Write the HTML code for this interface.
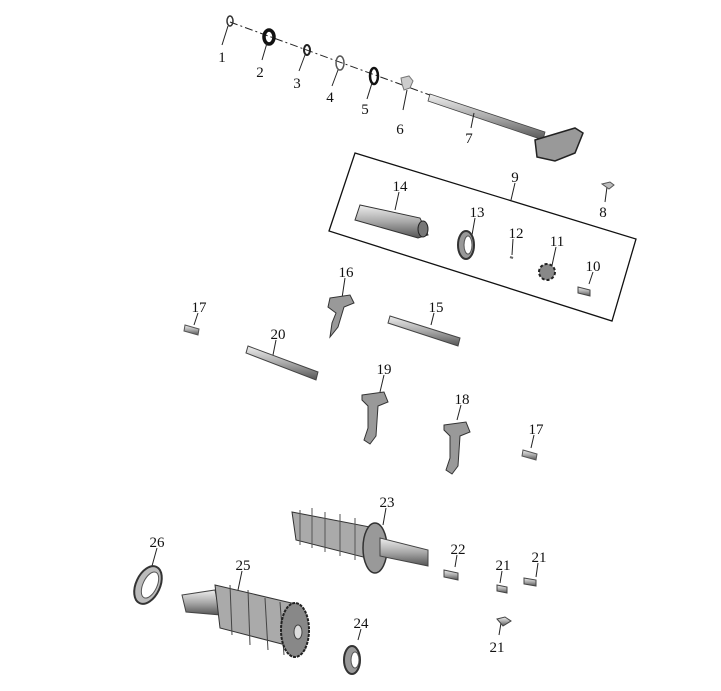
<!DOCTYPE html>
<html><head><style>
html,body{margin:0;padding:0;background:#fff;}
svg{display:block}
text{font-family:"Liberation Serif",serif;font-size:15px;fill:#111;text-anchor:middle}
</style></head><body>
<svg width="721" height="691" viewBox="0 0 721 691" xmlns="http://www.w3.org/2000/svg">
<defs>
<linearGradient id="m" x1="0" y1="0" x2="0" y2="1"><stop offset="0" stop-color="#eee"/><stop offset=".5" stop-color="#aaa"/><stop offset="1" stop-color="#555"/></linearGradient>
</defs>
<!-- axis dash-dot -->
<line x1="230" y1="22" x2="438" y2="98" stroke="#222" stroke-width="1" stroke-dasharray="8,3,2,3"/>
<!-- small rings -->
<ellipse cx="230" cy="21" rx="3" ry="5" fill="none" stroke="#333" stroke-width="1.5"/>
<ellipse cx="269" cy="37" rx="5" ry="7" fill="none" stroke="#111" stroke-width="3.5"/>
<ellipse cx="307" cy="50" rx="3" ry="5" fill="none" stroke="#222" stroke-width="2"/>
<ellipse cx="340" cy="63" rx="4" ry="7" fill="none" stroke="#555" stroke-width="1.5"/>
<ellipse cx="374" cy="76" rx="4" ry="8" fill="none" stroke="#111" stroke-width="2.5"/>
<path d="M401 78 l8 -2 l4 5 l-3 7 l-6 2 l-2 -6z" fill="#ccc" stroke="#777"/>
<!-- shaft 7 -->
<path d="M430 94 L545 132 L543 140 L428 101z" fill="url(#m)" stroke="#444" stroke-width=".8"/>
<path d="M535 140 l40 -12 l8 5 l-8 20 l-20 8 l-18 -4z" fill="#999" stroke="#222" stroke-width="1.5"/>
<!-- leaders -->
<g stroke="#222" stroke-width="1">
<line x1="228" y1="26" x2="222" y2="45"/><line x1="267" y1="43" x2="262" y2="60"/>
<line x1="305" y1="55" x2="299" y2="71"/><line x1="338" y1="70" x2="332" y2="86"/>
<line x1="372" y1="83" x2="367" y2="99"/><line x1="407" y1="90" x2="403" y2="110"/>
<line x1="474" y1="113" x2="471" y2="128"/><line x1="607" y1="187" x2="605" y2="202"/>
<line x1="515" y1="183" x2="511" y2="200"/><line x1="593" y1="272" x2="589" y2="284"/>
<line x1="556" y1="247" x2="551" y2="270"/><line x1="513" y1="239" x2="512" y2="255"/>
<line x1="475" y1="218" x2="472" y2="235"/><line x1="399" y1="192" x2="395" y2="210"/>
<line x1="434" y1="313" x2="431" y2="325"/><line x1="345" y1="278" x2="342" y2="298"/>
<line x1="198" y1="313" x2="194" y2="325"/><line x1="534" y1="435" x2="531" y2="448"/>
<line x1="461" y1="405" x2="457" y2="420"/><line x1="384" y1="375" x2="380" y2="392"/>
<line x1="276" y1="340" x2="273" y2="355"/><line x1="386" y1="508" x2="383" y2="525"/>
<line x1="457" y1="555" x2="455" y2="567"/><line x1="502" y1="571" x2="500" y2="583"/>
<line x1="538" y1="563" x2="536" y2="577"/><line x1="501" y1="623" x2="499" y2="635"/>
<line x1="361" y1="629" x2="358" y2="640"/><line x1="242" y1="571" x2="238" y2="590"/>
<line x1="157" y1="548" x2="152" y2="566"/>
</g>
<!-- box 9 -->
<polygon points="355,153 636,239 612,321 329,231" fill="none" stroke="#111" stroke-width="1.3"/>
<!-- 8 -->
<path d="M602 184 l8 -2 l4 3 l-5 4z" fill="#bbb" stroke="#555"/>
<!-- 14 drum -->
<path d="M360 205 L420 218 L428 235 L418 238 L355 220z" fill="url(#m)" stroke="#333"/>
<ellipse cx="423" cy="229" rx="5" ry="8" fill="#777" stroke="#222"/>
<!-- 13 bearing -->
<ellipse cx="466" cy="245" rx="8" ry="14" fill="#999" stroke="#333" stroke-width="2"/>
<ellipse cx="468" cy="245" rx="4" ry="9" fill="#fff" stroke="#555"/>
<line x1="510" y1="257" x2="513" y2="258" stroke="#666" stroke-width="2"/>
<!-- 11 -->
<circle cx="547" cy="272" r="8" fill="#888" stroke="#222" stroke-width="2" stroke-dasharray="3,2"/>
<!-- 10 -->
<path d="M578 287 l12 3 l0 6 l-12 -3z" fill="url(#m)" stroke="#444"/>
<!-- 16 fork -->
<path d="M330 298 l20 -3 l4 8 l-10 4 l-6 20 l-8 10 l2 -14 l4 -10 l-8 -6z" fill="#999" stroke="#333"/>
<!-- 15 rod -->
<path d="M390 316 L460 338 L458 346 L388 323z" fill="url(#m)" stroke="#444"/>
<!-- 17 pins -->
<path d="M185 325 l14 4 l-1 6 l-14 -4z" fill="url(#m)" stroke="#555"/>
<path d="M523 450 l14 4 l-1 6 l-14 -4z" fill="url(#m)" stroke="#555"/>
<!-- 20 rod -->
<path d="M248 346 L318 372 L316 380 L246 353z" fill="url(#m)" stroke="#444"/>
<!-- 19 fork -->
<path d="M362 395 l22 -3 l4 10 l-10 4 l-2 30 l-6 8 l-6 -4 l4 -12 l0 -22 l-6 -6z" fill="#999" stroke="#333"/>
<!-- 18 fork -->
<path d="M444 425 l22 -3 l4 10 l-10 4 l-2 30 l-6 8 l-6 -4 l4 -12 l0 -22 l-6 -6z" fill="#999" stroke="#333"/>
<!-- 23 shaft -->
<path d="M292 512 L370 527 L375 560 L296 540z" fill="#aaa" stroke="#333"/>
<g stroke="#555" stroke-width="1">
<line x1="300" y1="510" x2="300" y2="545"/><line x1="312" y1="508" x2="312" y2="548"/><line x1="325" y1="512" x2="325" y2="552"/><line x1="340" y1="514" x2="340" y2="556"/><line x1="355" y1="518" x2="355" y2="560"/></g>
<ellipse cx="375" cy="548" rx="12" ry="25" fill="#999" stroke="#333" stroke-width="1.5"/>
<path d="M380 538 L428 550 L428 566 L380 556z" fill="url(#m)" stroke="#444"/>
<!-- 22 -->
<path d="M444 570 l14 3 l0 7 l-14 -3z" fill="url(#m)" stroke="#444"/>
<!-- 21s -->
<path d="M497 585 l10 2 l0 6 l-10 -2z" fill="url(#m)" stroke="#444"/>
<path d="M524 578 l12 2 l0 6 l-12 -2z" fill="url(#m)" stroke="#444"/>
<path d="M497 619 l8 -2 l6 4 l-8 5z" fill="url(#m)" stroke="#444"/>
<!-- 26 washer -->
<ellipse cx="148" cy="585" rx="12" ry="20" transform="rotate(25 148 585)" fill="#bbb" stroke="#333" stroke-width="2"/>
<ellipse cx="150" cy="585" rx="7" ry="14" transform="rotate(25 150 585)" fill="#fff" stroke="#555"/>
<!-- 25 shaft -->
<path d="M182 595 L215 590 L220 615 L186 612z" fill="url(#m)" stroke="#444"/>
<path d="M215 585 L300 605 L305 650 L220 628z" fill="#aaa" stroke="#333"/>
<g stroke="#444"><line x1="230" y1="585" x2="232" y2="635"/><line x1="248" y1="590" x2="250" y2="645"/><line x1="265" y1="598" x2="268" y2="650"/><line x1="280" y1="602" x2="284" y2="655"/></g>
<ellipse cx="295" cy="630" rx="14" ry="27" fill="#888" stroke="#222" stroke-width="2" stroke-dasharray="3,1"/>
<ellipse cx="298" cy="632" rx="4" ry="7" fill="#ddd" stroke="#444"/>
<!-- 24 bearing -->
<ellipse cx="352" cy="660" rx="8" ry="14" fill="#999" stroke="#333" stroke-width="2"/>
<ellipse cx="355" cy="660" rx="4" ry="8" fill="#fff" stroke="#555"/>
<!-- labels -->
<text x="222" y="62">1</text><text x="260" y="77">2</text><text x="297" y="88">3</text>
<text x="330" y="102">4</text><text x="365" y="114">5</text><text x="400" y="134">6</text>
<text x="469" y="143">7</text><text x="603" y="217">8</text><text x="515" y="182">9</text>
<text x="593" y="271">10</text><text x="557" y="246">11</text><text x="516" y="238">12</text>
<text x="477" y="217">13</text><text x="400" y="191">14</text><text x="436" y="312">15</text>
<text x="346" y="277">16</text><text x="199" y="312">17</text><text x="536" y="434">17</text>
<text x="462" y="404">18</text><text x="384" y="374">19</text><text x="278" y="339">20</text>
<text x="503" y="570">21</text><text x="539" y="562">21</text><text x="497" y="652">21</text>
<text x="458" y="554">22</text><text x="387" y="507">23</text><text x="361" y="628">24</text>
<text x="243" y="570">25</text><text x="157" y="547">26</text>
</svg>
</body></html>
